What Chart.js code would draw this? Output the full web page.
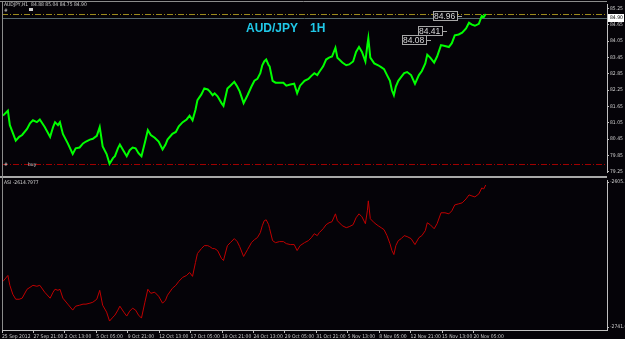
<!DOCTYPE html>
<html lang="en">
<head>
<meta charset="UTF-8" />
<title>AUD/JPY 1H</title>
<script src="https://cdn.jsdelivr.net/npm/chart.js@4.4.0/dist/chart.umd.min.js"></script>
<style>
	body{margin:0;background:#000;}
	#wrap{position:relative;width:625px;height:339px;background:#050308;overflow:hidden;}
	#mainChart{position:absolute;left:0;top:0;}
	#asiChart{position:absolute;left:0;top:176px;}
</style>
</head>
<body>
<div id="wrap">
	<canvas id="mainChart" width="625" height="176"></canvas>
	<canvas id="asiChart" width="625" height="163"></canvas>
</div>
<script>
// hour-bar index of each sampled point
const bars = [2,12,16,22,28,35,41,51,57,63,71,77,87,98,104,108,114,118,124,134,
	144,150,158,165,171,179,185,193,199,205,213,219,226,230,236,240,248,254,260,266,
	272,278,284,291,297,303,311,319,327,333,337,347,354,360,368,376,382,388,394,398,
	406,412,419,423,429,433,439,447,451,459,465,473,479,484,492,500,508,514,520,526,
	530,534,538,543,545,551,557,565,573,579,587,595,601,607,616,624,630,636,642,646,
	654,660,666,672,679,683,693,701,707,715,721,727,733,740,744,746,750,758,766,772,
	778,784,790,794,798,802,807,813,819,825,833,841,849,855,862,866,872,880,886,894,
	902,910,916,922,930,937,945,951,957,963,971,977,981,985];

const price = [81.31,81.49,80.96,80.68,80.39,80.53,80.60,80.82,81.03,81.14,
	81.07,81.17,80.89,80.53,80.89,81.07,80.96,81.07,80.64,80.29,
	79.90,80.11,80.14,80.29,80.36,80.43,80.46,80.57,80.89,80.18,
	79.90,79.54,79.75,79.82,80.11,80.25,80.00,79.82,80.04,80.14,
	80.11,79.93,79.82,80.32,80.78,80.60,80.50,80.36,80.07,80.25,
	80.43,80.64,80.71,80.92,81.07,81.17,81.31,81.14,81.53,81.88,
	82.09,82.31,82.27,82.20,82.06,82.13,82.02,81.77,81.67,82.31,
	82.41,82.55,82.38,82.20,81.77,82.06,82.38,82.59,82.66,82.87,
	83.16,83.30,83.37,83.16,83.12,82.59,82.52,82.52,82.52,82.41,
	82.45,82.48,82.13,82.41,82.59,82.66,82.77,82.87,82.80,82.91,
	83.12,83.37,83.44,83.48,83.80,83.44,83.26,83.16,83.19,83.30,
	83.65,83.83,83.65,83.30,83.90,84.15,83.44,83.23,83.16,83.09,
	83.02,82.80,82.59,82.24,82.06,82.38,82.59,82.73,82.87,82.91,
	82.80,82.48,82.80,82.95,83.23,83.55,83.44,83.26,83.48,83.90,
	83.87,83.83,83.97,84.26,84.29,84.36,84.51,84.72,84.65,84.61,
	84.68,84.97,84.93,85.04];

const asi = [-2698.7,-2693.1,-2702.4,-2710.8,-2715.5,-2715.5,-2714.5,-2706.1,-2704.3,-2702.4,
	-2703.3,-2702.4,-2708.9,-2714.5,-2708.9,-2706.1,-2707.1,-2706.1,-2714.5,-2720.1,
	-2725.7,-2722.0,-2721.1,-2720.1,-2720.1,-2719.2,-2718.3,-2715.5,-2707.1,-2721.1,
	-2727.6,-2736.0,-2732.3,-2730.4,-2725.7,-2722.0,-2727.6,-2731.3,-2726.7,-2723.9,
	-2725.7,-2730.4,-2733.2,-2718.3,-2706.1,-2709.9,-2708.9,-2712.7,-2719.2,-2716.4,
	-2711.7,-2705.2,-2702.4,-2698.7,-2694.9,-2693.1,-2690.3,-2694.0,-2680.9,-2672.5,
	-2667.9,-2665.1,-2665.1,-2666.0,-2667.9,-2667.9,-2669.7,-2677.2,-2679.1,-2665.1,
	-2662.3,-2658.5,-2661.3,-2666.0,-2675.3,-2668.8,-2662.3,-2659.5,-2657.6,-2652.9,
	-2646.4,-2641.7,-2640.8,-2645.4,-2649.2,-2660.4,-2662.3,-2661.3,-2661.3,-2663.2,
	-2664.1,-2664.1,-2669.7,-2665.1,-2662.3,-2660.4,-2657.6,-2653.9,-2655.7,-2652.9,
	-2649.2,-2645.4,-2643.6,-2642.6,-2635.2,-2641.7,-2646.4,-2648.2,-2647.3,-2645.4,
	-2638.9,-2635.2,-2638.0,-2644.5,-2632.4,-2623.0,-2639.8,-2643.6,-2646.4,-2648.2,
	-2650.1,-2655.7,-2663.2,-2669.7,-2673.5,-2665.1,-2660.4,-2658.5,-2655.7,-2656.6,
	-2658.5,-2664.1,-2657.6,-2655.7,-2651.0,-2643.6,-2645.4,-2649.2,-2644.5,-2634.2,
	-2634.2,-2635.2,-2632.4,-2626.8,-2625.8,-2624.9,-2621.2,-2617.4,-2618.4,-2619.3,
	-2616.5,-2610.9,-2611.8,-2608.1];

const timeBars = [0,64,128,192,256,320,384,448,512,576,640,704,768,832,896,960];
const timeLabels = ["25 Sep 2012","27 Sep 21:00","2 Oct 13:00","5 Oct 05:00","9 Oct 21:00",
	"12 Oct 13:00","17 Oct 05:00","19 Oct 21:00","24 Oct 13:00","29 Oct 05:00","31 Oct 21:00",
	"5 Nov 13:00","8 Nov 05:00","12 Nov 21:00","15 Nov 13:00","20 Nov 05:00"];
const priceTicks = [85.25,84.65,84.05,83.45,82.85,82.25,81.65,81.05,80.45,79.85,79.25];
const asiTicks = [-2605.3,-2741.6];

const highLevel = 85.04, lowLevel = 79.52, bidLevel = 84.90;
const markLevels = [84.96, 84.41, 84.08];
const markBars = [937, 906, 874];
const headerText = "AUDJPY,H1  84.88 85.04 84.75 84.90";
const asiText = "ASI -2614.7977";

const xMax = 1232;
const narrow = "'Liberation Sans Narrow', 'DejaVu Sans Condensed', sans-serif";
const small = {family:narrow, size:5};
const smallCss = '5px ' + narrow;
const axisGray = '#c0c0c0';

const mainDeco = {
	id:'mainDeco',
	beforeDatasetsDraw(chart){
		const ctx = chart.ctx, a = chart.chartArea, ys = chart.scales.y;
		ctx.save();
		ctx.lineWidth = 1;
		ctx.setLineDash([6,2,1,2]);
		let y = Math.round(ys.getPixelForValue(highLevel)) + 0.5;
		ctx.strokeStyle = '#9c8a1c';
		ctx.beginPath(); ctx.moveTo(a.left, y); ctx.lineTo(a.right, y); ctx.stroke();
		y = Math.round(ys.getPixelForValue(lowLevel)) + 0.5;
		ctx.strokeStyle = '#a00000';
		ctx.beginPath(); ctx.moveTo(a.left, y); ctx.lineTo(a.right, y); ctx.stroke();
		ctx.setLineDash([]);
		y = Math.round(ys.getPixelForValue(bidLevel)) + 0.5;
		ctx.strokeStyle = '#566a6e';
		ctx.beginPath(); ctx.moveTo(a.left, y); ctx.lineTo(a.right, y); ctx.stroke();
		ctx.restore();
	},
	afterDraw(chart){
		const ctx = chart.ctx, a = chart.chartArea, ys = chart.scales.y, xs = chart.scales.x;
		ctx.save();
		ctx.strokeStyle = '#8c8c8c';
		ctx.lineWidth = 1;
		ctx.beginPath(); ctx.moveTo(0, 1.5); ctx.lineTo(a.right, 1.5); ctx.stroke();
		ctx.beginPath(); ctx.moveTo(2.5, 1); ctx.lineTo(2.5, chart.height); ctx.stroke();

		// bid box on the price axis
		let y = Math.round(ys.getPixelForValue(bidLevel));
		ctx.fillStyle = '#ffffff';
		ctx.fillRect(a.right + 1, y - 4, 16, 8);
		ctx.fillStyle = '#000000';
		ctx.font = smallCss;
		ctx.textBaseline = 'middle';
		ctx.fillText(bidLevel.toFixed(2), a.right + 3, y);

		// price labels
		ctx.font = '8.5px "Liberation Sans"';
		markLevels.forEach((lv, i) => {
			const xe = Math.round(xs.getPixelForValue(markBars[i]));
			const yy = Math.round(ys.getPixelForValue(lv)) + 0.5;
			const txt = lv.toFixed(2);
			const w = Math.ceil(ctx.measureText(txt).width) + 2;
			ctx.fillStyle = '#050308';
			ctx.fillRect(xe - 5 - w, yy - 5, w, 9);
			ctx.strokeStyle = '#a8a8a8';
			ctx.strokeRect(xe - 5 - w + 0.5, yy - 5, w, 9);
			ctx.beginPath(); ctx.moveTo(xe - 5, yy); ctx.lineTo(xe, yy); ctx.stroke();
			ctx.fillStyle = '#d8d8d8';
			ctx.fillText(txt, xe - 4 - w, yy);
		});

		// title
		ctx.fillStyle = '#20c8e8';
		ctx.font = 'bold 12px "Liberation Sans"';
		ctx.textBaseline = 'alphabetic';
		ctx.fillText('AUD/JPY', 246, 32);
		ctx.fillText('1H', 310, 32);

		// small texts
		ctx.fillStyle = '#d0d0d0';
		ctx.font = smallCss;
		ctx.textBaseline = 'top';
		ctx.fillText(headerText, 4, 2);
		ctx.fillText('#', 4, 8);
		ctx.fillRect(29, 8, 4, 3);
		ctx.fillText('#', 4, 162);
		ctx.fillText('buy', 28, 162);
		ctx.restore();
	}
};

const asiDeco = {
	id:'asiDeco',
	afterDraw(chart){
		const ctx = chart.ctx, a = chart.chartArea;
		ctx.save();
		ctx.fillStyle = '#a8a8a8';
		ctx.fillRect(0, 0, a.right, 2);
		ctx.strokeStyle = '#8c8c8c';
		ctx.lineWidth = 1;
		ctx.beginPath(); ctx.moveTo(2.5, 0); ctx.lineTo(2.5, a.bottom); ctx.stroke();
		ctx.fillStyle = '#d0d0d0';
		ctx.font = smallCss;
		ctx.textBaseline = 'top';
		ctx.fillText(asiText, 4, 4);
		ctx.restore();
	}
};

new Chart(document.getElementById('mainChart'), {
	type:'line',
	data:{
		datasets:[{
			data: bars.map((b, i) => ({x:b, y:price[i]})),
			borderColor:'#00ff00',
			borderWidth:2,
			pointRadius:0,
			tension:0
		}]
	},
	options:{
		responsive:false,
		animation:false,
		layout:{padding:{top:2, left:2, right:0, bottom:1}},
		plugins:{legend:{display:false}, tooltip:{enabled:false}},
		scales:{
			x:{type:'linear', display:false, min:0, max:xMax},
			y:{
				position:'right', min:79.24, max:85.41,
				afterBuildTicks: s => { s.ticks = priceTicks.map(v => ({value:v})); },
				afterFit: s => { s.width = 18; },
				ticks:{color:'#d0d0d0', font:small, padding:1, autoSkip:false, callback: v => Number(v).toFixed(2)},
				grid:{drawOnChartArea:false, tickLength:2, color:axisGray},
				border:{color:axisGray}
			}
		}
	},
	plugins:[mainDeco]
});

new Chart(document.getElementById('asiChart'), {
	type:'line',
	data:{
		datasets:[{
			data: bars.map((b, i) => ({x:b, y:asi[i]})),
			borderColor:'#c00000',
			borderWidth:1,
			pointRadius:0,
			tension:0
		}]
	},
	options:{
		responsive:false,
		animation:false,
		layout:{padding:{top:3, left:2, right:0, bottom:0}},
		plugins:{legend:{display:false}, tooltip:{enabled:false}},
		scales:{
			x:{
				type:'linear', min:0, max:xMax,
				afterBuildTicks: s => { s.ticks = timeBars.map(v => ({value:v})); },
				afterFit: s => { s.height = 9; },
				ticks:{color:'#d0d0d0', font:small, padding:1, maxRotation:0, autoSkip:false, align:'start',
					callback: (v, i) => timeLabels[i]},
				grid:{drawOnChartArea:false, tickLength:3, color:axisGray},
				border:{color:axisGray}
			},
			y:{
				position:'right', min:-2744.4, max:-2603.4,
				afterBuildTicks: s => { s.ticks = asiTicks.map(v => ({value:v})); },
				afterFit: s => { s.width = 18; },
				ticks:{color:'#d0d0d0', font:small, padding:1, autoSkip:false, callback: v => Number(v).toFixed(1)},
				grid:{drawOnChartArea:false, tickLength:2, color:axisGray},
				border:{color:axisGray}
			}
		}
	},
	plugins:[asiDeco]
});
</script>
</body>
</html>
